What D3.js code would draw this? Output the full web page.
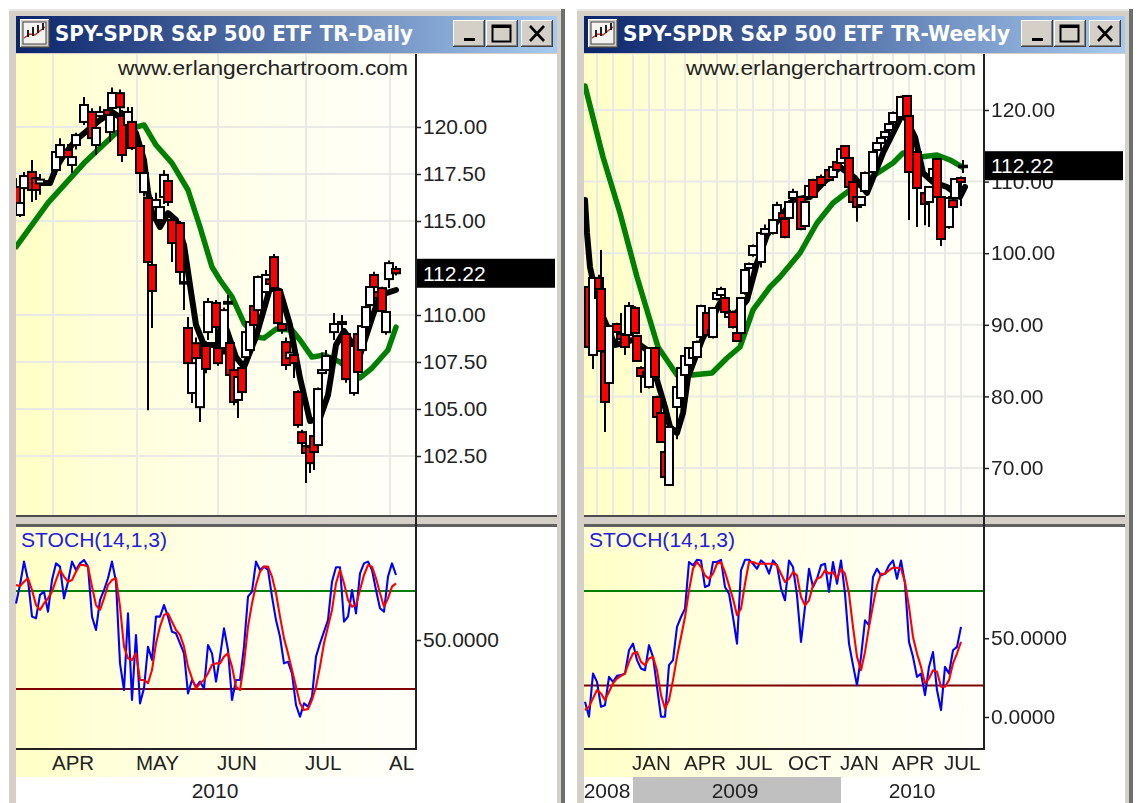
<!DOCTYPE html>
<html>
<head>
<meta charset="utf-8">
<title>SPY daily and weekly</title>
<script src="https://cdn.jsdelivr.net/npm/d3@7"></script>
<style>
	html, body { margin: 0; padding: 0; background: #fff; }
	svg { display: block; filter: blur(0.45px); }
	text { font-family: "Liberation Sans", Arial, sans-serif; }
</style>
</head>
<body>
<svg id="chart" width="1137" height="803"></svg>
<script>
//=================== DATA ====================================
// candles are [bar index, open, high, low, close]
var dailyCandles = [
	[0,116.81,117.29,115.85,115.96],[1,115.32,116.22,115.21,115.96],[2,116.75,117.61,115.48,117.39],
	[4,117.61,118.24,116.01,116.65],[5,117.29,117.6,116.12,116.65],[6,117.0,117.5,116.4,117.2],
	[10,117.71,119.04,117.45,118.67],[11,118.4,119.4,118.0,119.04],[13,118.78,119.1,118.0,118.4],
	[14,117.98,118.8,117.55,118.4],[15,119.04,119.7,118.8,119.57],[17,120.27,121.6,120.11,121.17],
	[19,120.8,121.0,119.31,119.41],[20,119.04,120.3,118.51,119.95],[21,120.59,121.1,120.3,120.8],
	[23,120.9,121.17,120.2,120.64],[23.5,119.73,120.9,119.2,120.64],[24,121.01,122.1,120.8,121.81],
	[26,121.8,122.0,120.5,121.05],[26.5,120.59,120.9,118.14,118.51],[28,120.11,121.07,119.9,120.8],
	[29,120.27,121.07,118.78,118.88],[31,118.99,119.3,117.5,117.55],[32,116.54,117.7,116.3,117.55],
	[33,116.22,116.4,104.94,112.82],[34,112.66,112.9,109.31,111.28],[35,115.74,116.5,115.5,116.12],
	[36,115.05,116.0,114.8,115.74],[37,116.28,117.7,115.9,117.45],[38,117.13,117.4,115.8,116.01],
	[39,115.05,115.3,112.82,113.83],[41,114.89,115.0,111.7,112.29],[42,111.75,112.8,110.26,111.7],
	[43,109.31,109.89,107.3,107.44],[44,105.85,107.6,105.32,107.44],[45,108.5,108.8,107.5,107.7],
	[46,105.1,107.9,104.31,107.71],[47.5,108.35,108.6,106.9,107.13],[48,109.09,110.9,108.67,110.69],
	[50,110.64,110.8,108.2,109.36],[50.5,108.24,108.5,107.3,107.44],[52,108.24,110.4,107.9,110.26],
	[53,110.6,111.06,109.2,110.7],[53.5,108.51,108.7,106.6,106.81],[54.5,107.07,107.2,105.2,105.37],
	[55.5,105.48,106.9,104.52,106.7],[56.5,107.18,107.3,105.7,105.9],[57.5,107.76,109.2,107.5,109.09],
	[58.5,108.14,109.7,108.0,109.63],[59.5,110.48,110.6,109.3,109.47],[60.5,110.26,112.1,110.1,112.02],
	[62.5,111.22,112.4,111.1,112.13],[63.5,111.9,112.2,111.4,111.65],[64.5,113.08,113.25,111.3,111.43],
	[65.5,111.33,111.5,109.5,109.57],[66.5,109.52,109.7,109.0,109.2],[67.5,108.56,108.8,107.07,107.34],
	[68.5,107.7,108.2,107.5,108.0],[69.5,107.87,108.0,106.65,107.44],[70.5,105.9,106.0,104.0,104.15],
	[71.5,103.77,103.9,103.0,103.19],[72.5,103.03,103.2,101.06,102.66],[73.5,102.98,103.1,101.6,102.12],
	[74.5,103.56,103.7,101.75,102.71],[75.5,103.08,106.15,102.9,106.06],[76.5,106.91,108.0,104.2,107.07],
	[77.5,107.07,108.14,106.9,107.82],[79.5,109.09,110.1,108.67,109.52],[81.5,109.52,110.0,108.9,109.63],
	[82.5,108.99,109.1,106.4,106.59],[84.5,105.85,108.5,105.7,108.35],[85.5,108.99,109.1,106.8,106.97],
	[86.5,108.14,109.5,108.0,109.41],[87.5,109.36,110.5,109.2,110.42],[88.5,110.53,111.6,110.4,111.49],
	[89.5,112.13,112.3,111.4,111.49],[90.5,111.22,111.4,110.7,110.9],[91.5,111.43,111.5,110.1,110.21],
	[92.5,109.09,110.3,108.95,110.16],[93.25,111.91,112.9,111.43,112.76],[95,112.45,112.6,112.1,112.22]
];
// moving averages are [bar index, value]
var dailyGreen = [
	[0,113.62],[8,115.96],[17,118.08],[25,119.68],[32,120.11],[35,119.04],[39,118.08],[43,116.65],
	[46,114.68],[49,112.55],[51,111.86],[54,110.96],[57,109.57],[60,108.83],[62,108.77],[65,109.25],
	[69,109.2],[71,108.67],[74,107.76],[77,107.87],[81,107.5],[86,106.65],[89,107.18],[93,108.14],[95,109.36]
];
var dailyBlack = [
	[5,117.02],[8.5,117.02],[10,117.82],[12,118.51],[15,119.31],[18,119.84],[21,120.37],[24,120.8],
	[27,120.37],[30,119.68],[32,118.24],[33,116.54],[34,115.48],[36,114.68],[38,115.42],[40,115.05],
	[42,113.72],[43.5,111.59],[45,109.47],[47,108.4],[50.5,108.4],[51.5,109.95],[55,107.76],[57,107.23],
	[60,108.83],[63.5,111.43],[66,111.28],[68.5,109.47],[71,106.65],[73.5,104.36],[76,104.52],[78,105.74],
	[80,108.4],[82,109.15],[86,107.87],[89,109.84],[91,111.06],[95,111.33]
];
var dailyBlue = [72.4,83.7,98,86.7,64.3,63.3,77.6,79.6,67.3,86.7,96.9,94.9,75.5,85.7,98,92.9,96.9,99,94.9,64.3,56.1,74.5,80.6,87.8,98,85.7,35.7,19.4,66.3,13.3,53.1,11.2,20.4,45.9,37.8,64.3,64.3,71.4,64.3,55.1,54.1,48,41.8,17.3,25.5,21.4,24.5,20.4,46.9,41.8,24.5,39.8,57.1,43.9,13.3,25.5,25.5,45.9,76.5,79.6,98,92.9,94.9,92.9,76.5,62.2,52,35.7,36.7,29.6,10.2,3,11.2,9.2,15.3,39.8,48,55.1,62.2,85.7,94.5,94.5,61.2,64.3,80.6,66.3,90.8,96.9,98,92.9,80.6,69.4,67.3,88.8,96.9,89.8];
var dailyRed = [83.7,83,85.7,87.8,80.6,71.4,68.4,72.4,75.5,79.6,86.7,92.9,88.8,85.7,86.7,91.8,95.9,95.9,94.9,82.7,71.4,68.4,75.5,83.7,86.7,87.8,70.4,45.9,38.8,37.8,41.8,25.5,25.5,23.5,31.6,48,58.2,65.3,66.3,61.2,56.1,53.1,45.9,33.7,26.5,20.4,23.5,25.5,29.6,34.7,35.7,35.7,39.8,41.8,33.7,21.4,19.4,35.7,58.2,72.4,83.7,91.8,94.9,94.9,88.8,78.6,64.3,51,41.8,31.6,21.4,11.2,7.1,7.7,13.3,21.4,33.7,48,58.2,68.4,84.7,92.9,84.7,74.5,70.4,71.4,80.6,89.8,95.9,94.9,87.8,78.6,70.4,75.5,82.7,84.7];
var dailyPriceTicks = [120,117.5,115,110,107.5,105,102.5];
var dailyStochTicks = [50];
var dailyMonthBars = [9.25,30.25,50.5,72.5,93.5];
var dailyMonthLabels = ["APR","MAY","JUN","JUL","AL"];
var dailyYearBars = [49.75];
var dailyYearLabels = ["2010"];

var weeklyCandles = [
	[1,95.28,95.6,86.6,86.9],[2,85.78,96.8,83.83,96.54],[3.5,96.54,97,93.5,93.74],[4,95,100.45,86.2,86.34],
	[5,86.2,86.4,75.03,79.22],[6,81.87,90,81.7,89.83],[8,90.11,90.3,87.5,88.99],[9,88.72,91.65,87,88.02],
	[10,88.58,88.8,85.78,86.9],[11,88.58,93.2,88.4,92.63],[12.5,92.35,92.6,88.7,88.85],[13,88.44,88.6,84.8,84.95],
	[14,83.97,84.2,80.5,82.85],[15.5,83.41,83.6,82.5,82.71],[16,81.31,86.9,81.1,86.76],[17.5,86.76,86.9,82.5,82.71],
	[18,79.92,80.1,77,77.12],[19,77.68,77.8,73.5,73.63],[20,72.24,72.4,68.6,68.74],[21,67.63,75.9,67.5,75.73],
	[23,78.52,81.5,74,81.31],[24,79.78,84.1,79.6,83.97],[25,82.99,85.8,82.8,85.64],[26,84.39,86.9,84.2,86.76],
	[27,85.36,87,85.2,86.76],[28,85.5,87.8,85.3,87.6],[29,88.3,92.8,88.1,92.63],[30.5,91.65,91.8,88.4,88.58],
	[31.75,89.27,89.5,88.7,88.85],[32,88.3,92.5,88.1,92.35],[33,93.6,94.6,93.4,94.44],[34,94.16,95.3,94,95],
	[35,93.74,94.2,91.5,91.79],[36,91.09,92,90.9,91.65],[37,91.79,92,89.5,89.69],[38,88.85,89,87.6,87.74],
	[39,88.85,93.9,88.7,93.74],[40,94.44,97.8,94.2,97.65],[41,97.93,98.7,97.7,98.49],[42,99.75,101.2,99.5,101],
	[44,98.77,103,98,102.82],[45,102.7,104,102.4,103.38],[47,102.82,105.4,102.6,104.64],[48,104.64,107.2,104.4,106.73],
	[49.5,105.6,106,104.7,104.9],[50,104.78,104.9,102.1,102.26],[51,104.92,107.4,104.7,107.15],[52,107.71,109,107.5,108.55],
	[54,107.85,108,103.2,103.38],[55,103.8,107.3,103.6,107.15],[56,107.85,109.8,107.6,109.39],[57,110.22,110.4,107.7,107.85],
	[59,110.64,111,109.3,109.53],[61,111.62,111.8,110,110.22],[62,110.64,112.2,110.5,112.04],[63,112.74,112.9,111.5,111.62],
	[64,112.6,114.7,112.4,114.55],[65,114.97,115.1,113.1,113.3],[66,113.3,113.5,109.1,109.25],[67,109.94,110.1,107,107.15],
	[68,107.85,108,104.4,106.45],[69,106.73,108,106.5,107.85],[70,108.69,111.4,108.5,111.2],[72,111.34,114.3,111.1,114.13],
	[73,114.41,115.6,114.2,115.39],[74,115.39,116.3,115.2,116.09],[75,116.23,117.2,116,116.93],[76,117.21,118.3,117,118.04],
	[77,118.32,119.8,118.1,119.58],[79,119.02,122,118.8,121.82],[80.5,121.96,122.1,118.9,119.02],[81,119.16,119.3,104.64,111.34],
	[83,114.13,114.3,103.66,109.11],[85,108.41,108.6,103.9,106.87],[86,107.15,109.4,103.66,109.25],[87,110.5,112,110.3,111.76],
	[88,113.16,113.3,107.7,107.85],[89,107.85,108,101,101.98],[91,103.66,108,103.4,107.71],[92,107.4,107.6,103.8,106.45],
	[92.5,107.71,110.5,107.5,110.36],[94,110.5,110.7,106.6,109.94],[94.5,112.1,113,111.2,112.22]
];
var weeklyGreen = [
	[0,123.35],[4.5,113.44],[8.75,105.61],[13,96.68],[18.25,86.9],[23,82.99],[26.75,82.99],[31.75,83.27],
	[35.5,85.36],[38.75,86.9],[42,92.07],[46.25,95.28],[48.75,96.68],[53.75,100.03],[58,104.22],[62,107.01],
	[66.25,108.83],[71.25,110.5],[77,112.6],[79.5,113.99],[83.75,113.44],[88,113.72],[91.25,113.02],[94.25,112.04]
];
var weeklyBlack = [
	[0,107.43],[0.5,102.82],[1.25,98.07],[2.5,94.86],[3.75,92.07],[7.5,87.18],[12,87.88],[15.5,86.48],[18,82.29],
	[20,78.52],[21.25,75.73],[23,74.89],[24.5,77.68],[25.75,82.71],[29.25,87.88],[33.75,93.05],[37,91.09],
	[40.5,93.46],[43,98.63],[45.5,102.54],[52,107.43],[56.25,107.85],[59.5,109.8],[63.75,112.04],[67.5,110.5],
	[70.5,108.41],[74.5,113.99],[79.5,119.58],[82.5,116.23],[84.5,111.2],[87,109.94],[90.5,109.25],[93.75,107.85],[95,109.25]
];
var weeklyBlue = [9.7,.2,27.6,22.3,6.5,7.5,25.5,22.3,26.1,26.6,27.6,42.4,46.6,36.1,30.8,29.7,45.6,38.2,19.2,.2,.2,32.9,36.1,57.2,63.5,68.8,98.4,96.3,99.8,99.4,82.5,83.6,98.4,98.4,99.8,82.5,78.3,63.5,46.6,93.1,99.8,99.8,97.3,94.1,99.4,97.3,91,99.4,96.3,81.5,74.1,99.4,95.2,77.2,47.7,69.9,94.1,82.5,87.8,96.3,97.3,79.4,98.4,84.6,99.4,78.3,46.6,32.9,20.2,38.2,61.4,58.2,88.9,94.1,89.9,91,96.3,99.4,87.8,99.4,84.6,47.7,38.2,25.5,27.6,13.9,31.8,41.3,17.1,4.4,31.8,27.6,42.4,44.5,57.2];
var weeklyRed = [4.4,6.5,11.8,17.1,14.9,10.7,16,21.3,24.4,26.1,27.6,35,40.3,41.3,35,32.9,37.1,38.2,29.7,13.9,5.4,10.7,23.4,38.2,50.8,63.5,80.4,94.1,98.4,95.2,89.9,87.8,91,97.3,98.4,92,83.6,75.1,64.6,68.8,84.6,98.4,98.4,97.3,97.3,97.3,97.3,97.3,96.3,91,85.7,87.8,92,89.9,76.2,70.9,74.1,83.6,87.8,88.9,93.1,91,92,87.8,94.1,91,78.3,57.2,38.2,29.7,41.3,57.2,70.9,83.6,91,91,93.1,94.8,94.8,94.1,85.7,69.9,50.8,40.3,31.8,21.3,24.4,29.7,28.7,19.2,19.2,23.4,34,40.3,47.7];
var weeklyPriceTicks = [120,110,100,90,80,70];
var weeklyStochTicks = [50,0];
var weeklyGridBars = [3,7,12,16,20,25,29,33,38,42,47,51,55,60,64,68,72,77,81,85,90,94];
var weeklyMonthBars = [12,25,38,51,64,77,90];
var weeklyMonthLabels = ["JAN","APR","JUL","OCT","JAN","APR","JUL"];
var weeklyYearBars = [5.5,37.5,81.75];
var weeklyYearLabels = ["2008","2009","2010"];
var weeklyGreyBand = [12,64];

var lastPrice = 112.22;
var stochLevels = [80,20];

//=================== COLOURS ====================================
var navy = "#0a246a", lightBlue = "#a6caf0", winGrey = "#d4d0c8";
var gridColour = "#e9e9e6", candleRed = "#ff0000", maGreen = "#008000";

var svg = d3.select("#chart");
var defs = svg.append("defs");

var titleGrad = defs.append("linearGradient").attr("id", "titleGrad");
titleGrad.append("stop").attr("offset", 0).attr("stop-color", navy);
titleGrad.append("stop").attr("offset", 1).attr("stop-color", lightBlue);

var paperGrad = defs.append("linearGradient").attr("id", "paperGrad");
[[0, "#ffffc6"], [0.1, "#ffffcc"], [0.2, "#ffffd9"], [0.5, "#ffffe8"], [1, "#fffffa"]].forEach(function (s) {
	paperGrad.append("stop").attr("offset", s[0]).attr("stop-color", s[1]);
});

// candles and averages stop at the left and right of the plot
defs.append("clipPath").attr("id", "plotClip").append("rect")
	.attr("x", 16).attr("y", 54).attr("width", 400).attr("height", 462);

//=================== PRIVATE FUNCTIONS ====================================
function bevel(grp, x, y, w, h) {
	grp.append("rect").attr("x", x).attr("y", y).attr("width", w).attr("height", h).attr("fill", "#404040");
	grp.append("rect").attr("x", x).attr("y", y).attr("width", w - 1).attr("height", h - 1).attr("fill", "#fff");
	grp.append("rect").attr("x", x + 1).attr("y", y + 1).attr("width", w - 2).attr("height", h - 2).attr("fill", "#808080");
	grp.append("rect").attr("x", x + 1).attr("y", y + 1).attr("width", w - 3).attr("height", h - 3).attr("fill", winGrey);
}

function drawFrame(grp, title, titleWidth) {
	// window chrome
	grp.append("rect").attr("x", 9).attr("y", 9).attr("width", 553).attr("height", 794).attr("fill", winGrey);
	grp.append("rect").attr("x", 9).attr("y", 9).attr("width", 553).attr("height", 2).attr("fill", "#e8e6e0");
	grp.append("rect").attr("x", 561).attr("y", 9).attr("width", 4).attr("height", 794).attr("fill", "#6e6e6e");
	grp.append("rect").attr("x", 16).attr("y", 54).attr("width", 541).attr("height", 749).attr("fill", "#fff");
	grp.append("rect").attr("x", 16).attr("y", 16).attr("width", 541).attr("height", 37).attr("fill", "url(#titleGrad)");

	// icon
	var icon = grp.append("g");
	bevel(icon, 20, 19, 30, 29);
	icon.append("rect").attr("x", 23).attr("y", 22).attr("width", 23).attr("height", 22).attr("fill", "#f4f2ee").attr("stroke", "#404040");
	icon.append("path").attr("d", "M24 38 L30 34 L35 35 L41 30 L45 27").attr("fill", "none").attr("stroke", "#c83030").attr("stroke-width", 1.5);
	icon.append("path").attr("d", "M28 37 V30 M33 36 V27 M38 33 V25 M43 30 V23").attr("fill", "none").attr("stroke", "#202020").attr("stroke-width", 2);

	grp.append("text").attr("x", 55).attr("y", 41)
		.attr("textLength", titleWidth).attr("lengthAdjust", "spacingAndGlyphs")
		.style("font-family", "'DejaVu Sans', sans-serif").style("font-weight", "bold").style("font-size", "20.5px")
		.attr("fill", "#fff").text(title);

	// buttons
	bevel(grp, 453, 20, 32, 27);
	grp.append("rect").attr("x", 464).attr("y", 38).attr("width", 11).attr("height", 3).attr("fill", "#000");
	bevel(grp, 486, 20, 32, 27);
	grp.append("rect").attr("x", 492.5).attr("y", 25.5).attr("width", 18).attr("height", 16).attr("fill", "none").attr("stroke", "#000").attr("stroke-width", 2);
	grp.append("rect").attr("x", 492).attr("y", 25).attr("width", 19).attr("height", 3).attr("fill", "#000");
	bevel(grp, 521, 20, 32, 27);
	grp.append("path").attr("d", "M530 26 L544 41 M544 26 L530 41").attr("stroke", "#000").attr("stroke-width", 2.6).attr("fill", "none");
}

function drawPaper(grp, top, bottom) {
	grp.append("rect").attr("x", 16).attr("y", top).attr("width", 400).attr("height", bottom - top).attr("fill", "url(#paperGrad)");
}

function drawGrid(grp, xScale, yScale, gridBars, yTicks, top, bottom) {
	grp.selectAll("line.v").data(gridBars).enter().append("line").attr("class", "v")
		.attr("x1", xScale).attr("x2", xScale).attr("y1", top).attr("y2", bottom)
		.attr("stroke", gridColour).attr("stroke-width", 2);
	grp.selectAll("line.h").data(yTicks).enter().append("line").attr("class", "h")
		.attr("x1", 16).attr("x2", 416).attr("y1", yScale).attr("y2", yScale)
		.attr("stroke", gridColour).attr("stroke-width", 2);
}

function drawCandles(grp, candles, xScale, yScale) {
	var sel = grp.selectAll("g.candle").data(candles).enter().append("g").attr("class", "candle");
	sel.append("line")
		.attr("x1", function (d) { return xScale(d[0]); })
		.attr("x2", function (d) { return xScale(d[0]); })
		.attr("y1", function (d) { return yScale(d[2]); })
		.attr("y2", function (d) { return yScale(d[3]); })
		.attr("stroke", "#000").attr("stroke-width", 2);
	sel.append("rect")
		.attr("x", function (d) { return xScale(d[0]) - 4; })
		.attr("width", 8)
		.attr("y", function (d) { return Math.min(yScale(d[1]), yScale(d[4])); })
		.attr("height", function (d) { return Math.max(1.5, Math.abs(yScale(d[1]) - yScale(d[4]))); })
		.attr("fill", function (d) { return d[4] >= d[1] ? "#fff" : candleRed; })
		.attr("stroke", "#000").attr("stroke-width", 2);
}

function drawAverage(grp, points, xScale, yScale, colour, width) {
	var line = d3.line()
		.x(function (d) { return xScale(d[0]); })
		.y(function (d) { return yScale(d[1]); });
	grp.append("path").datum(points).attr("d", line)
		.attr("fill", "none").attr("stroke", colour).attr("stroke-width", width)
		.attr("stroke-linejoin", "round").attr("stroke-linecap", "round");
}

function drawStochLine(grp, values, xScale, yScale, colour) {
	var line = d3.line()
		.x(function (d, i) { return xScale(i); })
		.y(function (d) { return yScale(d); });
	grp.append("path").datum(values).attr("d", line)
		.attr("fill", "none").attr("stroke", colour).attr("stroke-width", 2.1).attr("stroke-linejoin", "round");
}

function styleAxis(axisGrp) {
	axisGrp.select(".domain").remove();
	axisGrp.selectAll(".tick line").attr("stroke", "#222").attr("stroke-width", 1.5);
	axisGrp.selectAll(".tick text").attr("x", 7).attr("fill", "#222")
		.style("font-family", "'Liberation Sans', Arial, sans-serif").style("font-size", "21px");
}

function drawWindow(cfg) {
	var grp = svg.append("g").attr("transform", "translate(" + cfg.dx + ",0)");
	drawFrame(grp, cfg.title, cfg.titleWidth);

	var xScale = d3.scaleLinear().domain([0, 95]).range([cfg.xStart, cfg.xStart + 380]);
	var priceScale = d3.scaleLinear().domain(cfg.priceDomain).range(cfg.priceRange);
	var stochScale = d3.scaleLinear().domain(stochLevels).range(cfg.stochRange);

	// price panel
	drawPaper(grp, 54, 516);
	drawGrid(grp, xScale, priceScale, cfg.gridBars, cfg.priceTicks, 54, 516);
	grp.append("text").attr("x", 118).attr("y", 75).attr("textLength", 290).attr("lengthAdjust", "spacingAndGlyphs")
		.style("font-size", "21px").attr("fill", "#222").text("www.erlangerchartroom.com");
	var plot = grp.append("g").attr("clip-path", "url(#plotClip)");
	drawAverage(plot, cfg.green, xScale, priceScale, maGreen, 5.5);
	drawAverage(plot, cfg.black, xScale, priceScale, "#000", 6);
	drawCandles(plot, cfg.candles, xScale, priceScale);

	// splitter
	grp.append("rect").attr("x", 16).attr("y", 515).attr("width", 541).attr("height", 2).attr("fill", "#555");
	grp.append("rect").attr("x", 16).attr("y", 517).attr("width", 541).attr("height", 7).attr("fill", winGrey);
	grp.append("rect").attr("x", 16).attr("y", 524).attr("width", 541).attr("height", 3).attr("fill", "#606060");

	// stochastic panel
	drawPaper(grp, 527, 750);
	drawGrid(grp, xScale, stochScale, cfg.gridBars, cfg.stochTicks, 527, 749);
	grp.append("rect").attr("x", 16).attr("y", 527).attr("width", 154).attr("height", 26).attr("fill", "#ffffd2");
	grp.append("text").attr("x", 21).attr("y", 547).attr("textLength", 146).attr("lengthAdjust", "spacingAndGlyphs")
		.style("font-size", "20px").attr("fill", "#2020e0").text("STOCH(14,1,3)");
	grp.append("line").attr("x1", 16).attr("x2", 416).attr("y1", stochScale(80)).attr("y2", stochScale(80))
		.attr("stroke", maGreen).attr("stroke-width", 1.8);
	grp.append("line").attr("x1", 16).attr("x2", 416).attr("y1", stochScale(20)).attr("y2", stochScale(20))
		.attr("stroke", "#800000").attr("stroke-width", 1.8);
	drawStochLine(grp, cfg.blue, xScale, stochScale, "#0000ff");
	drawStochLine(grp, cfg.red, xScale, stochScale, "#ff0000");

	// month strip
	drawPaper(grp, 750, 777);
	var monthAxis = d3.axisBottom(xScale).tickValues(cfg.monthBars).tickSize(0)
		.tickFormat(function (d, i) { return cfg.monthLabels[i]; });
	var monthGrp = grp.append("g").attr("transform", "translate(0,749)").call(monthAxis);
	monthGrp.select(".domain").remove();
	monthGrp.selectAll(".tick text").attr("text-anchor", "start").attr("x", -1.5).attr("y", 6).attr("dy", "0.71em")
		.attr("fill", "#222").style("font-family", "'Liberation Sans', Arial, sans-serif").style("font-size", "20.5px");

	// year strip
	if (cfg.greyBand) {
		grp.append("rect").attr("x", xScale(cfg.greyBand[0])).attr("y", 777)
			.attr("width", xScale(cfg.greyBand[1]) - xScale(cfg.greyBand[0])).attr("height", 26).attr("fill", "#c0c0c0");
	}
	grp.selectAll("text.year").data(cfg.yearLabels).enter().append("text").attr("class", "year")
		.attr("x", function (d, i) { return xScale(cfg.yearBars[i]); }).attr("y", 798).attr("text-anchor", "middle")
		.style("font-size", "21px").attr("fill", "#222").text(function (d) { return d; });

	// axes
	grp.append("line").attr("x1", 416).attr("x2", 416).attr("y1", 54).attr("y2", 750).attr("stroke", "#222").attr("stroke-width", 2);
	grp.append("line").attr("x1", 16).attr("x2", 417).attr("y1", 749).attr("y2", 749).attr("stroke", "#222").attr("stroke-width", 2);
	grp.append("line").attr("x1", 16).attr("x2", 416).attr("y1", 516).attr("y2", 516).attr("stroke", "#444").attr("stroke-width", 1);

	var priceAxis = d3.axisRight(priceScale).tickValues(cfg.priceTicks).tickSize(5).tickFormat(d3.format(".2f"));
	styleAxis(grp.append("g").attr("transform", "translate(416,0)").call(priceAxis));
	var stochAxis = d3.axisRight(stochScale).tickValues(cfg.stochTicks).tickSize(5).tickFormat(d3.format(".4f"));
	styleAxis(grp.append("g").attr("transform", "translate(416,0)").call(stochAxis));

	// last price flag
	var lastY = priceScale(lastPrice);
	grp.append("rect").attr("x", 417).attr("y", lastY - 14.5).attr("width", 138).attr("height", 29).attr("fill", "#000");
	grp.append("text").attr("x", 423).attr("y", lastY + 7.5).style("font-size", "21px").attr("fill", "#fff").text(d3.format(".2f")(lastPrice));
}

//=================== RENDER ====================================
drawWindow({
	dx: 0, title: "SPY-SPDR S&P 500 ETF TR-Daily", titleWidth: 358, xStart: 16,
	priceDomain: [120, 102.5], priceRange: [127, 456], stochRange: [591, 689],
	candles: dailyCandles, green: dailyGreen, black: dailyBlack, blue: dailyBlue, red: dailyRed,
	priceTicks: dailyPriceTicks, stochTicks: dailyStochTicks, gridBars: dailyMonthBars,
	monthBars: dailyMonthBars, monthLabels: dailyMonthLabels, yearBars: dailyYearBars, yearLabels: dailyYearLabels
});
drawWindow({
	dx: 568, title: "SPY-SPDR S&P 500 ETF TR-Weekly", titleWidth: 387, xStart: 17,
	priceDomain: [120, 70], priceRange: [110, 468], stochRange: [591, 685.5],
	candles: weeklyCandles, green: weeklyGreen, black: weeklyBlack, blue: weeklyBlue, red: weeklyRed,
	priceTicks: weeklyPriceTicks, stochTicks: weeklyStochTicks, gridBars: weeklyGridBars,
	monthBars: weeklyMonthBars, monthLabels: weeklyMonthLabels, yearBars: weeklyYearBars, yearLabels: weeklyYearLabels,
	greyBand: weeklyGreyBand
});
</script>
</body>
</html>
